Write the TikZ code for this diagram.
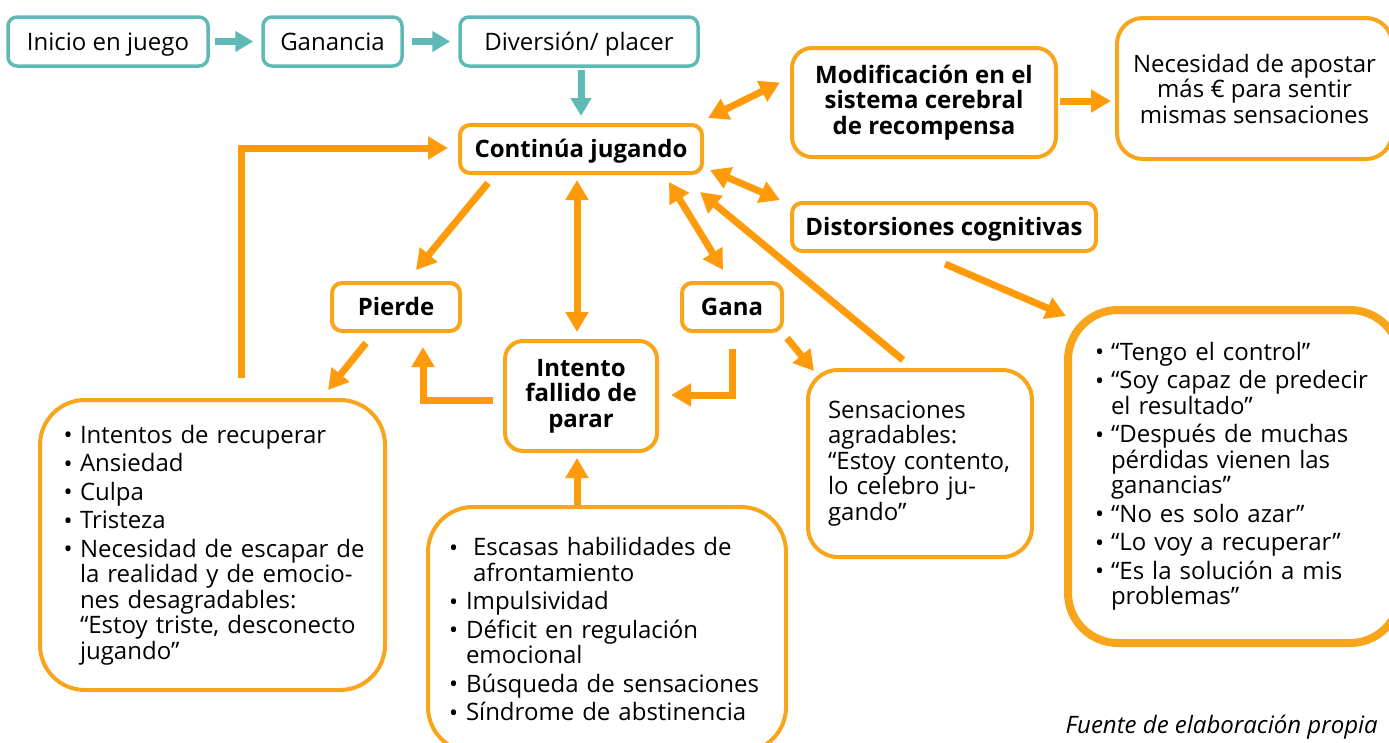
\documentclass[tikz,border=0pt]{standalone}
\usepackage{fontspec}
\setmainfont{Open Sans}
\usetikzlibrary{arrows.meta,calc}
\definecolor{tealc}{RGB}{95,186,182}
\definecolor{orc}{RGB}{248,165,27}
\definecolor{ora}{RGB}{255,155,10}
\newcommand\bl[1]{\makebox[#1][l]{\hspace*{-1pt}\fontsize{24}{24}\selectfont\raisebox{-0.5pt}{•}}}
\newcommand\ind[1]{\hspace*{#1}}
\begin{document}
\begin{tikzpicture}[x=1pt,y=-1pt,
  every node/.style={inner sep=0pt},
  rg/.style={font=\fontsize{24}{25.5}\selectfont},
  bd/.style={font=\fontsize{24}{25.5}\selectfont\bfseries},
  one/.style={text height=17pt,text depth=0pt},
  tbox/.style={draw=tealc,line width=3.5pt,rounded corners=9pt,fill=white,rg,one,minimum height=49pt},
  obox/.style={draw=orc,line width=4pt,fill=white},
  tarr/.style={draw=tealc,line width=7pt,-{Triangle[length=18pt,width=20pt]}},
  oarr/.style={draw=ora,line width=7pt,-{Triangle[length=20pt,width=22pt]}},
  darr/.style={draw=ora,line width=7pt,{Triangle[length=20pt,width=22pt]}-{Triangle[length=20pt,width=22pt]}},
]
\clip (0,0) rectangle (1389,742);
% top teal row
\node[tbox,minimum width=200pt] (ini) at (108,41.5) {Inicio en juego};
\node[tbox,minimum width=139pt] (gan) at (332.5,41.5) {Ganancia};
\node[tbox,minimum width=238pt] (div) at (579,41.5) {Diversión/ placer};
% orange boxes
\node[obox,bd,one,rounded corners=10pt,minimum width=242pt,minimum height=48pt] (cont) at (581,149) {Continúa jugando};
\node[obox,bd,align=center,rounded corners=20pt,minimum width=264pt,minimum height=109pt] (mod) at (924,102.5) {Modificación en el\\sistema cerebral\\de recompensa};
\node[obox,rg,align=center,rounded corners=26pt,minimum width=275pt,minimum height=141pt] (nec) at (1254.5,88.5) {Necesidad de apostar\\más € para sentir\\mismas sensaciones};
\node[obox,bd,one,rounded corners=10pt,minimum width=304pt,minimum height=48pt] (dist) at (944,227) {Distorsiones cognitivas};
\node[obox,bd,one,rounded corners=10pt,minimum width=128pt,minimum height=48pt] (pier) at (396,307) {Pierde};
\node[obox,bd,one,rounded corners=10pt,minimum width=100pt,minimum height=48pt] (gana) at (732,307) {Gana};
\node[obox,bd,align=center,rounded corners=18pt,minimum width=152pt,minimum height=110pt] (intento) at (581,396) {Intento\\fallido de\\parar};
\node[obox,rg,align=left,text width=184pt,rounded corners=30pt,minimum width=224pt,minimum height=187pt] (sens) at (920,463.5)
  {Sensaciones\\agradables:\\“Estoy contento,\\lo celebro ju-\\gando”};
\node[obox,rg,align=left,text width=296pt,rounded corners=45pt,minimum width=345pt,minimum height=290pt] (lbox) at (212.5,545)
  {\bl{15.5pt}Intentos de recuperar\\[3pt]
   \bl{15.5pt}Ansiedad\\[3pt]
   \bl{15.5pt}Culpa\\[3pt]
   \bl{15.5pt}Tristeza\\[3pt]
   \bl{15.5pt}\mbox{Necesidad de escapar de}\\
   \ind{15.5pt}\mbox{la realidad y de emocio-}\\
   \ind{15.5pt}nes desagradables:\\
   \ind{15.5pt}\mbox{“Estoy triste, desconecto}\\
   \ind{15.5pt}jugando”};
\node[obox,rg,align=left,text width=314pt,rounded corners=45pt,minimum width=358pt,minimum height=245pt] (bot) at (607,629.5)
  {\bl{23pt}Escasas habilidades de\\
   \ind{23pt}afrontamiento\\[3pt]
   \bl{16pt}Impulsividad\\[3pt]
   \bl{16pt}Déficit en regulación\\
   \ind{16pt}emocional\\[3pt]
   \bl{16pt}\mbox{Búsqueda de sensaciones}\\[3pt]
   \bl{16pt}Síndrome de abstinencia};
\node[obox,rg,line width=8pt,align=left,text width=276pt,rounded corners=50pt,minimum width=332pt,minimum height=333pt] (dlist) at (1234,476.5)
  {\bl{15pt}“Tengo el control”\\[3pt]
   \bl{15pt}\mbox{“Soy capaz de predecir}\\
   \ind{15pt}el resultado”\\[3pt]
   \bl{15pt}“Después de muchas\\
   \ind{15pt}pérdidas vienen las\\
   \ind{15pt}ganancias”\\[3pt]
   \bl{15pt}“No es solo azar”\\[3pt]
   \bl{15pt}“Lo voy a recuperar”\\[3pt]
   \bl{15pt}“Es la solución a mis\\
   \ind{15pt}problemas”};
\node[font=\fontsize{24}{25.5}\selectfont\itshape,anchor=base east] (src) at (1378,733) {Fuente de elaboración propia};
% teal arrows
\draw[tarr] ($(ini.east)+(5,0)$) -- ($(gan.west)+(-8,0)$);
\draw[tarr] ($(gan.east)+(8,0)$) -- ($(div.west)+(-8,0)$);
\draw[tarr] ($(div.south -| cont.north)+(0,2)$) -- ($(cont.north)+(0,-7)$);
% orange arrows
\draw[darr] ($(cont.north east)+(4,-5)$) -- ($(mod.west)+(-10,-20)$);
\draw[oarr] ($(mod.east)+(2,-1.5)$) -- ($(mod.east -| nec.west)+(-4,-1.5)$);
\draw[darr] ($(cont.south east)+(6,-5)$) -- ($(dist.north west)+(-10,-1)$);
\draw[oarr] ($(dist.south)+(1,11)$) -- ($(dlist.north west)+(2,10)$);
\draw[oarr] ($(cont.south west)+(30,8)$) -- ($(pier.north)+(20,-11)$);
\draw[oarr] ($(pier.south)+(-30,10)$) -- ($(lbox.north east)+(-59,-8)$);
\draw[oarr] ($(lbox.north)+(28.5,-20)$) |- ($(cont.west)+(-10,-1)$);
\draw[darr] ($(cont.south)+(-4,5)$) -- ($(intento.north)+(-4,-7)$);
\draw[oarr] ($(intento.west)+(-10,4)$) -| ($(pier.south)+(27,14)$);
\draw[oarr] ($(gana.south)+(0,16)$) |- ($(intento.east)+(12,-1)$);
\draw[darr] ($(cont.south east)+(-35,7)$) -- ($(gana.north)+(-9,-11)$);
\draw[oarr] ($(gana.south east)+(3,5)$) -- ($(sens.north west)+(8,3)$);
\draw[oarr] ($(sens.north)+(-17,-8)$) -- ($(cont.south east)+(-4,17)$);
\draw[oarr] ($(bot.north)+(-30,0)$) -- ($(intento.south)+(-4,5)$);
\end{tikzpicture}
\end{document}
